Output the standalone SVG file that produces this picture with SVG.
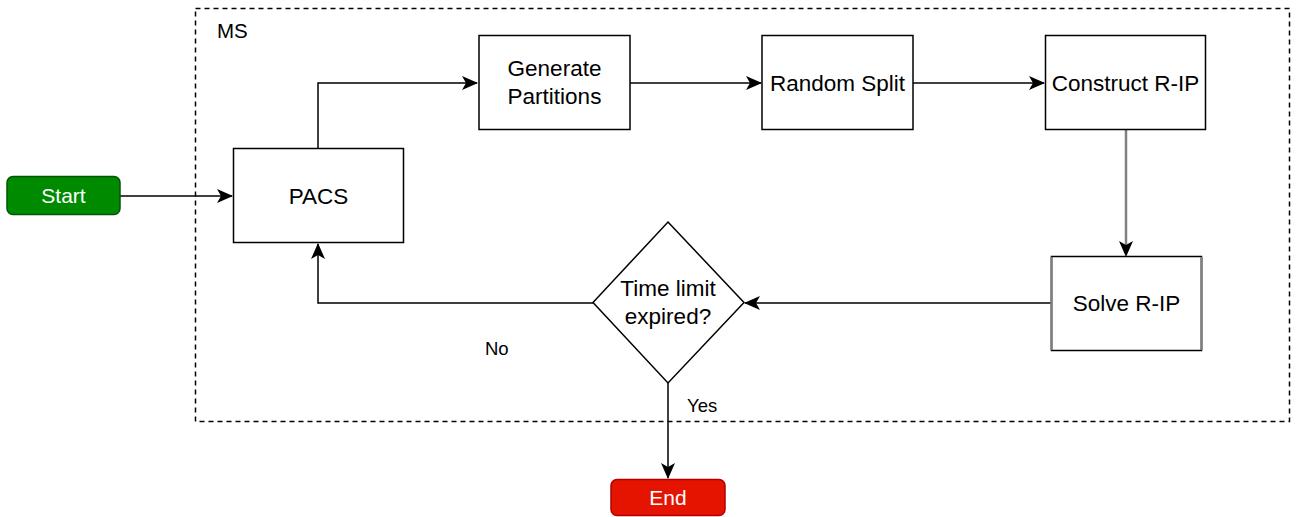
<svg xmlns="http://www.w3.org/2000/svg" width="1298" height="517" viewBox="0 0 1298 517">
<style>
  .box { fill: #ffffff; stroke: #000000; stroke-width: 1.5; }
  .lbl { font-family: "Liberation Sans", Arial, sans-serif; font-size: 22.5px; fill: #000000; text-anchor: middle; }
  .small { font-family: "Liberation Sans", Arial, sans-serif; font-size: 18.5px; fill: #000000; }
  .term { font-family: "Liberation Sans", Arial, sans-serif; font-size: 21px; fill: #ffffff; text-anchor: middle; }
  .edge { fill: none; stroke: #000000; stroke-width: 1.5; }
</style>
<defs>
  <marker id="arr" markerUnits="userSpaceOnUse" markerWidth="18" markerHeight="16" viewBox="0 0 18 16" refX="16" refY="8" orient="auto">
    <path d="M1,1 L17,8 L1,15 L5,8 Z" fill="#000000"/>
  </marker>
</defs>
<rect width="1298" height="517" fill="#ffffff"/>

<g id="ms">
  <rect x="195.5" y="8.5" width="1094" height="413" fill="none" stroke="#000000" stroke-width="1.5" stroke-dasharray="5,4"/>
  <text x="217" y="38" class="small" style="font-size:20.5px">MS</text>
</g>

<g id="connectors">
  <path class="edge" d="M120,196 L232,196" marker-end="url(#arr)"/>
  <path class="edge" d="M318,148 L318,83 L477,83" marker-end="url(#arr)"/>
  <path class="edge" d="M630,83 L761,83" marker-end="url(#arr)"/>
  <path class="edge" d="M913,83 L1044,83" marker-end="url(#arr)"/>
  <path d="M1126,129 L1126,248" fill="none" stroke="#808080" stroke-width="2.5"/>
  <path d="M1126,246 L1126,256" fill="none" stroke="none" marker-end="url(#arr)"/>
  <path class="edge" d="M1052,303 L745,303" marker-end="url(#arr)"/>
  <path class="edge" d="M593,303 L318,303 L318,244" marker-end="url(#arr)"/>
  <path class="edge" d="M668,383 L668,478" marker-end="url(#arr)"/>
  <text x="485" y="355" class="small">No</text>
  <text x="687" y="412" class="small">Yes</text>
</g>

<g id="start">
  <rect x="7" y="176.5" width="113" height="38" rx="6" ry="6" fill="#008a00" stroke="#005700" stroke-width="1.5"/>
  <text x="63.5" y="203" class="term">Start</text>
</g>

<g id="pacs">
  <rect x="233.5" y="148.5" width="170" height="94" class="box"/>
  <text x="318.5" y="204" class="lbl">PACS</text>
</g>

<g id="generate">
  <rect x="479" y="35.5" width="151" height="94" class="box"/>
  <text x="554.5" y="76" class="lbl">Generate</text>
  <text x="554.5" y="104" class="lbl">Partitions</text>
</g>

<g id="random">
  <rect x="762" y="35.5" width="151" height="94" class="box"/>
  <text x="837.5" y="91" class="lbl">Random Split</text>
</g>

<g id="construct">
  <rect x="1045.5" y="35.5" width="160" height="94" class="box"/>
  <text x="1125.5" y="91" class="lbl">Construct R-IP</text>
</g>

<g id="solve">
  <rect x="1051.5" y="256.5" width="150" height="94" class="box"/>
  <line x1="1051.5" y1="257" x2="1051.5" y2="350" stroke="#808080" stroke-width="2.5"/>
  <line x1="1201.5" y1="257" x2="1201.5" y2="350" stroke="#808080" stroke-width="2.5"/>
  <text x="1126.5" y="311" class="lbl">Solve R-IP</text>
</g>

<g id="decision">
  <path d="M668,222 L744,302.5 L668,383 L593,302.5 Z" class="box"/>
  <text x="668" y="296" class="lbl">Time limit</text>
  <text x="668" y="324" class="lbl">expired?</text>
</g>

<g id="end">
  <rect x="611" y="479.5" width="114" height="36" rx="6" ry="6" fill="#e51400" stroke="#b20000" stroke-width="1.5"/>
  <text x="668" y="505" class="term">End</text>
</g>
</svg>
